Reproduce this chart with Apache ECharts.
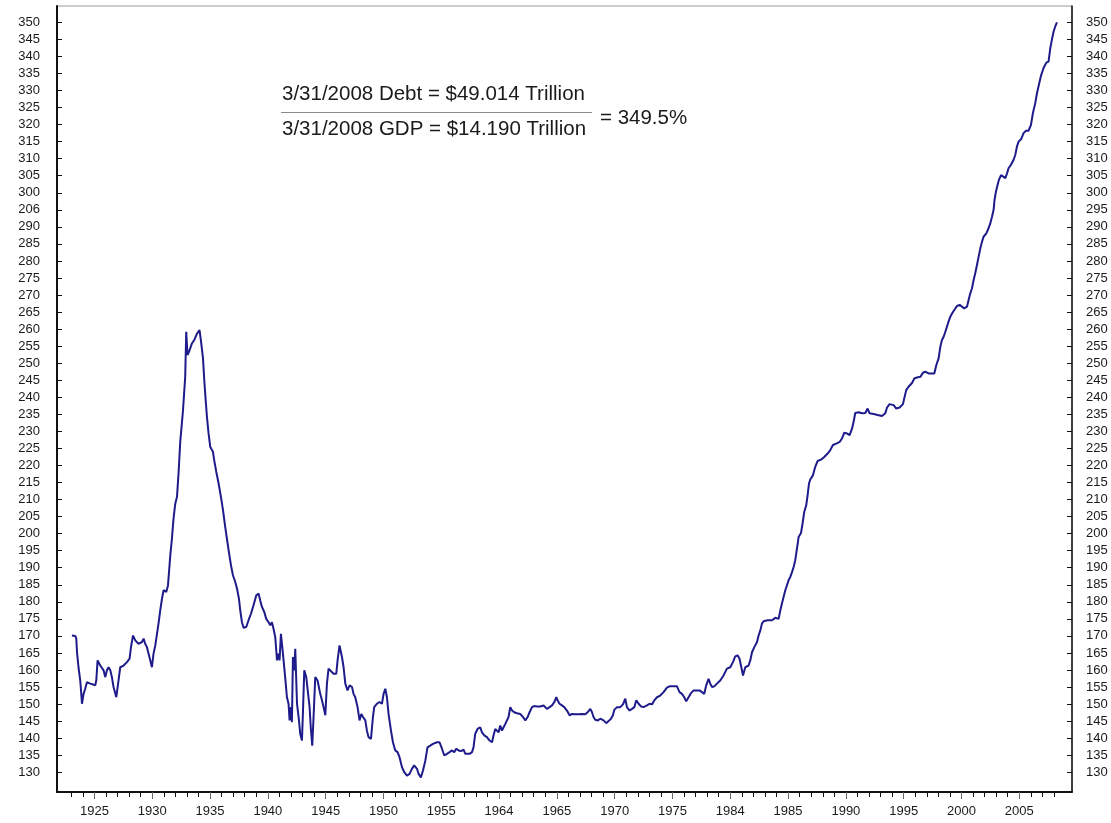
<!DOCTYPE html>
<html><head><meta charset="utf-8">
<script src="https://cdn.jsdelivr.net/npm/echarts@6/dist/echarts.min.js"></script>
<style>html,body{margin:0;padding:0;background:#fff}#c{width:1111px;height:823px}</style>
</head><body><div id="c"></div>
<script>
// Total debt as % of GDP
const years = [
1923.05,1923.34,1923.43,1923.49,1923.62,1923.77,1923.86,1923.92,1924.06,1924.20,1924.35,1924.64,1925.07,1925.16,1925.27,1925.50,1925.79,1925.93,1926.08,1926.22,1926.37,1926.51,1926.65,1926.89,1927.00,1927.08,1927.23,1927.52,1927.81,1928.04,1928.16,1928.33,1928.53,1928.81,1929.11,1929.25,1929.39,1929.54,1929.68,1929.83,1929.97,
1930.11,1930.26,1930.41,1930.54,1930.69,1930.84,1930.98,1931.21,1931.36,1931.56,1931.70,1931.84,1931.99,1932.14,1932.28,1932.42,1932.66,1932.85,1932.94,1933.05,1933.23,1933.43,1933.63,1933.87,1934.09,1934.24,1934.39,1934.50,1934.61,1934.73,1934.87,
1935.02,1935.25,1935.36,1935.54,1935.74,1935.94,1936.12,1936.31,1936.46,1936.63,1936.81,1936.98,1937.18,1937.33,1937.50,1937.61,1937.76,1937.90,1938.13,1938.33,1938.54,1938.76,1939.00,1939.20,1939.34,1939.49,1939.69,1939.86,
1940.06,1940.21,1940.35,1940.49,1940.64,1940.79,1940.90,1941.01,1941.13,1941.25,1941.36,1941.51,1941.65,1941.79,1941.88,1942.00,1942.08,1942.17,1942.28,1942.37,1942.52,1942.66,1942.80,1942.95,1943.04,1943.15,1943.32,1943.61,1943.71,1943.84,1943.95,1944.10,1944.30,1944.53,1944.68,1944.82,1944.97,
1945.11,1945.25,1945.68,1945.92,1946.03,1946.20,1946.32,1946.41,1946.55,1946.70,1946.89,1947.07,1947.28,1947.41,1947.56,1947.76,1947.93,1948.08,1948.23,1948.43,1948.57,1948.71,1948.92,1949.09,1949.20,1949.44,1949.66,1949.87,
1950.01,1950.16,1950.30,1950.44,1950.65,1950.82,1951.02,1951.22,1951.39,1951.60,1951.80,1952.03,1952.26,1952.46,1952.66,1952.90,1953.04,1953.24,1953.42,1953.62,1953.81,1954.05,1954.28,1954.63,1954.85,
1955.06,1955.26,1955.49,1955.72,1955.93,1956.12,1956.30,1956.50,1956.70,1956.93,1957.08,1957.22,1957.45,1957.66,1957.79,1957.94,1958.14,1958.37,1958.52,1958.72,1958.95,1959.18,1959.39,1959.52,1959.67,1959.82,1959.96,
1960.10,1960.25,1960.39,1960.54,1960.68,1960.82,1960.97,1961.12,1961.31,1961.55,1961.83,1962.07,1962.27,1962.47,1962.64,1962.85,1963.04,1963.28,1963.56,1963.85,1964.00,1964.14,1964.37,1964.58,1964.78,1964.95,
1965.06,1965.23,1965.44,1965.64,1965.87,1966.10,1966.31,1966.59,1966.88,1967.17,1967.46,1967.66,1967.89,1968.04,1968.17,1968.32,1968.55,1968.75,1968.90,1969.04,1969.27,1969.47,1969.68,1969.85,1969.97,
1970.20,1970.48,1970.72,1970.92,1971.06,1971.29,1971.50,1971.70,1971.87,1972.07,1972.28,1972.50,1972.79,1973.02,1973.23,1973.43,1973.66,1973.94,1974.23,1974.52,1974.75,
1975.10,1975.39,1975.61,1975.82,1976.02,1976.19,1976.39,1976.60,1976.83,1977.12,1977.35,1977.55,1977.75,1977.92,1978.12,1978.27,1978.42,1978.62,1978.85,1979.13,1979.42,1979.71,
1980.00,1980.23,1980.43,1980.63,1980.80,1981.01,1981.10,1981.30,1981.58,1981.73,1981.88,1982.08,1982.31,1982.45,1982.60,1982.74,1982.88,1983.23,1983.61,1983.89,1984.18,1984.33,1984.47,1984.61,1984.76,1984.90,
1985.04,1985.19,1985.34,1985.48,1985.62,1985.77,1985.91,1986.12,1986.25,1986.40,1986.57,1986.69,1986.81,1986.92,1987.15,1987.35,1987.55,1987.85,1988.13,1988.42,1988.65,1988.88,1989.17,1989.46,1989.66,1989.86,
1990.09,1990.32,1990.53,1990.67,1990.81,1991.10,1991.39,1991.68,1991.88,1992.05,1992.40,1992.75,1993.12,1993.41,1993.56,1993.78,1994.13,1994.36,1994.65,1994.94,
1995.05,1995.22,1995.42,1995.72,1995.92,1996.15,1996.44,1996.67,1996.87,1997.15,1997.45,1997.65,1997.82,1998.02,1998.17,1998.31,1998.45,1998.60,1998.74,1998.88,1999.03,1999.18,1999.38,1999.61,1999.84,
2000.04,2000.24,2000.48,2000.61,2000.76,2000.91,2001.05,2001.19,2001.34,2001.48,2001.63,2001.77,2001.91,2002.15,2002.34,2002.49,2002.64,2002.78,2002.86,2002.98,2003.12,2003.24,2003.42,2003.59,2003.79,2003.94,2004.07,2004.28,2004.51,2004.65,2004.80,2004.94,
2005.15,2005.37,2005.58,2005.80,2006.01,2006.18,2006.38,2006.53,2006.73,2006.90,2007.10,2007.34,2007.53,2007.68,2007.83,2007.97,2008.11,2008.26
];
const debtToGdp = [
170.1,170.0,169.2,165.2,160.8,156.9,153.0,150.1,153.0,154.5,156.4,156.0,155.5,157.0,162.8,161.3,159.9,157.9,159.9,160.8,159.9,157.9,155.0,152.0,152.5,156.9,160.8,161.3,162.3,163.3,166.7,170.1,168.7,167.7,168.2,169.2,167.7,166.7,164.8,162.8,160.8,
164.8,167.2,170.6,173.6,177.5,180.9,183.4,182.9,184.8,193.6,198.5,204.4,208.8,210.8,218.1,226.9,236.2,246.0,259.2,252.4,253.8,255.8,256.8,258.7,259.7,255.8,251.4,245.0,239.7,234.3,229.4,
225.4,224.0,221.5,218.1,214.7,210.8,206.9,202.0,198.5,194.6,190.7,187.8,185.8,183.9,180.9,177.5,174.0,172.4,172.6,174.6,176.5,179.0,181.9,182.4,180.4,178.5,177.0,175.0,
174.0,173.1,174.0,172.1,169.6,162.8,164.8,162.8,170.6,166.7,162.8,157.4,152.0,150.1,145.2,149.1,144.7,163.8,159.9,166.2,150.1,146.2,141.3,139.3,148.1,159.9,157.9,149.1,143.2,137.8,146.0,157.9,156.9,153.0,151.1,149.1,146.7,
156.0,160.4,158.9,158.9,162.8,167.2,166.7,163.8,160.8,156.0,154.0,155.5,155.0,153.0,152.0,149.1,145.2,147.1,146.2,145.2,142.2,140.3,139.8,146.2,149.1,150.1,150.6,150.1,
153.0,154.5,152.0,147.1,142.2,138.8,136.4,135.9,134.4,131.5,130.0,129.0,129.5,131.0,132.0,131.0,129.5,128.5,130.5,133.4,137.3,137.8,138.3,138.8,138.8,
136.9,134.9,135.4,135.9,136.4,135.9,136.9,136.4,136.2,136.6,135.4,134.9,135.4,135.9,137.3,141.3,142.7,143.2,141.7,140.8,140.3,139.3,138.8,140.8,142.7,143.2,141.7,
143.7,142.2,143.2,144.2,144.7,146.2,149.1,148.1,147.6,147.3,147.1,146.2,145.2,146.2,147.6,149.1,149.4,149.3,149.3,149.6,150.1,148.6,149.1,149.6,150.6,152.0,
151.1,150.1,149.6,149.1,148.1,146.7,147.1,147.0,147.0,147.1,147.0,147.6,148.6,147.6,146.2,145.4,145.2,145.7,146.2,145.2,144.4,145.0,145.7,146.7,148.3,
149.1,149.1,149.9,151.6,149.1,148.1,148.6,149.1,151.1,150.1,149.3,149.1,149.6,150.1,149.9,151.1,152.0,152.5,153.5,154.8,155.2,
155.2,155.2,153.5,153.0,152.0,150.8,152.0,153.2,154.0,154.0,154.0,153.5,153.0,155.5,157.4,156.0,155.0,155.2,156.0,156.9,158.4,160.4,
160.8,162.3,164.0,164.3,163.3,159.9,158.4,160.8,161.3,162.8,165.2,166.7,168.2,170.1,171.6,173.6,174.3,174.6,174.6,175.3,175.0,177.5,179.5,181.4,183.4,184.8,
186.3,187.3,188.7,190.2,192.2,195.6,199.0,200.2,202.9,206.4,208.3,211.3,214.7,215.9,217.1,219.6,221.3,221.7,222.5,223.5,224.5,226.0,226.4,226.9,227.9,229.6,
229.4,228.9,230.8,232.8,235.4,235.6,235.3,235.4,236.7,235.3,235.1,234.8,234.5,235.3,237.0,238.0,237.7,236.7,237.0,238.0,
239.7,242.1,243.1,244.2,245.5,245.8,246.0,247.2,247.5,247.0,247.0,247.0,249.4,251.4,254.8,256.8,257.7,259.2,260.7,262.2,263.6,264.6,265.6,266.8,267.1,
266.6,266.1,266.6,268.5,270.5,272.0,274.4,276.4,278.8,281.2,283.7,285.6,287.1,288.1,289.6,291.0,293.0,295.0,297.9,300.3,302.3,303.8,305.2,304.8,304.3,305.7,307.2,308.2,309.7,311.1,313.6,315.0,
315.7,317.5,318.2,318.2,319.9,323.4,326.3,329.2,332.2,334.6,336.6,338.2,338.5,342.4,345.1,347.3,348.8,350.0
];
const yTickValues = [130,135,140,145,150,155,160,165,170,175,180,185,190,195,200,205,210,215,220,225,230,235,240,245,250,255,260,265,270,275,280,285,290,295,300,305,310,315,320,325,330,335,340,345,350];
const yLabelsLeft = ['130','135','140','145','150','155','160','165','170','175','180','185','190','195','200','205','210','215','220','225','230','235','240','245','250','255','260','265','270','275','280','285','290','206','300','305','310','315','320','325','330','335','340','345','350'];
const yLabelsRight = yTickValues.map(String);
const xLabelYears = [1925,1930,1935,1940,1945,1950,1955,1960,1965,1970,1975,1980,1985,1990,1995,2000,2005];
const xLabelTexts = ['1925','1930','1935','1940','1945','1950','1955','1964','1965','1970','1975','1984','1985','1990','1995','2000','2005'];
const xTickYears = [];
for (let y = 1923; y <= 2008; y++) xTickYears.push(y);
const noteDebt = '3/31/2008 Debt = $49.014 Trillion';
const noteGdp = '3/31/2008 GDP = $14.190 Trillion';
const noteRatio = '= 349.5%';

const FONT = '"Liberation Sans", Arial, Helvetica, sans-serif';
const chart = echarts.init(document.getElementById('c'), null, {renderer: 'canvas'});
const leftMap = {}; yTickValues.forEach((v, i) => leftMap[v] = yLabelsLeft[i]);
const rightMap = {}; yTickValues.forEach((v, i) => rightMap[v] = yLabelsRight[i]);
const xMap = {}; xLabelYears.forEach((v, i) => xMap[v] = xLabelTexts[i]);

const yAxisBase = (side, map, lineW, margin) => ({
  type: 'value', position: side, min: 124.2, max: 354.8,
  axisLine: {show: true, onZero: false, lineStyle: {color: '#111', width: lineW}},
  axisTick: {show: true, inside: true, length: 5, customValues: yTickValues, lineStyle: {color: '#111', width: 1}},
  axisLabel: {show: true, customValues: yTickValues, margin: margin, fontSize: 13, fontFamily: FONT, color: '#1a1a1a',
    formatter: v => map[Math.round(v)] || ''},
  splitLine: {show: false}
});

chart.setOption({
  animation: false,
  backgroundColor: '#fff',
  grid: {left: 57, right: 39, top: 6, bottom: 31, show: true, borderColor: '#9a9a9a', borderWidth: 1, containLabel: false, outerBoundsMode: 'none'},
  xAxis: [{
    type: 'value', position: 'bottom', min: 1921.76, max: 2009.56,
    axisLine: {show: true, onZero: false, lineStyle: {color: '#111', width: 2}},
    axisTick: {show: true, inside: false, length: 5, customValues: xTickYears, lineStyle: {color: '#111', width: 1}},
    axisLabel: {show: true, customValues: xLabelYears, margin: 13, fontSize: 13, fontFamily: FONT, color: '#1a1a1a',
      formatter: v => xMap[Math.round(v)] || ''},
    splitLine: {show: false}
  }, {
    type: 'value', position: 'bottom', offset: 0, min: 1921.76, max: 2009.56,
    axisLine: {show: false, onZero: false},
    axisTick: {show: true, inside: false, length: 7, customValues: xLabelYears, lineStyle: {color: '#666', width: 1}},
    axisLabel: {show: false},
    splitLine: {show: false}
  }],
  yAxis: [yAxisBase('left', leftMap, 2, 17), yAxisBase('right', rightMap, 1.5, 14)],
  series: [{
    type: 'line', xAxisIndex: 0, yAxisIndex: 0, showSymbol: false, symbol: 'none',
    data: years.map((y, i) => [y, debtToGdp[i]]),
    lineStyle: {color: '#1e1b8a', width: 2}
  }],
  graphic: [
    {type: 'text', left: 282, top: 84, style: {text: noteDebt, font: '20.5px ' + FONT, fill: '#1a1a1a'}},
    {type: 'line', shape: {x1: 281, y1: 112.5, x2: 592, y2: 112.5}, style: {stroke: '#8a8a8a', lineWidth: 1.2}},
    {type: 'text', left: 282, top: 119, style: {text: noteGdp, font: '20.5px ' + FONT, fill: '#1a1a1a'}},
    {type: 'text', left: 600, top: 108, style: {text: noteRatio, font: '20.5px ' + FONT, fill: '#1a1a1a'}}
  ]
});
</script></body></html>
